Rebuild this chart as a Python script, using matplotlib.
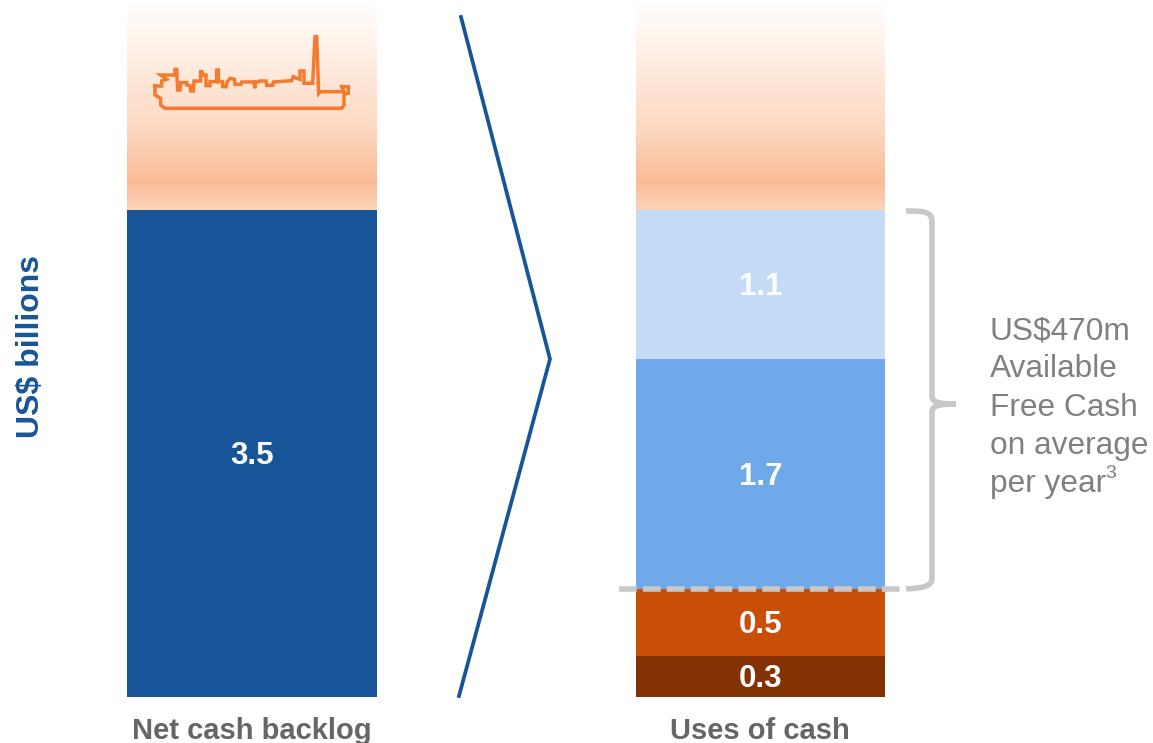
import numpy as np
import matplotlib
matplotlib.use("Agg")
import matplotlib.pyplot as plt
from matplotlib.colors import LinearSegmentedColormap
from matplotlib.patches import PathPatch
from matplotlib.path import Path

plt.rcParams['font.family'] = ['Liberation Sans', 'DejaVu Sans']

W, H = 1153, 743

backlog_label = "Net cash backlog"
backlog_value = 3.5
backlog_color = "#185598"

uses_label = "Uses of cash"
uses_values = [0.3, 0.5, 1.7, 1.1]
uses_colors = ["#843203", "#C94F08", "#6FA9E9", "#C5DBF5"]

note_lines = ["US$470m", "Available", "Free Cash", "on average", "per year"]

# ship icon outline, 3 units to a pixel
ship_x = [45, 45, 62, 62, 75, 605, 612, 612, 625, 625, 605, 612, 540, 536, 530, 525, 518, 492,
          492, 480, 480, 470, 460, 455, 440, 400, 398, 380, 378, 358, 355, 345, 345, 342, 305,
          303, 285, 283, 270, 262, 258, 248, 248, 235, 235, 230, 230, 210, 210, 198, 198, 190,
          186, 182, 182, 162, 160, 152, 150, 140, 140, 122, 120, 113, 110, 105, 105, 62, 80,
          65, 65, 45]
ship_y = [198, 225, 235, 255, 265, 265, 255, 222, 220, 200, 200, 215, 215, 220, 50, 50, 190, 190,
          153, 153, 178, 175, 170, 182, 183, 186, 196, 196, 183, 183, 186, 186, 205, 186, 186,
          193, 193, 178, 175, 185, 200, 200, 185, 185, 150, 150, 185, 185, 197, 197, 165, 165,
          155, 155, 183, 183, 213, 213, 197, 195, 188, 188, 210, 210, 148, 148, 165, 165, 178,
          183, 198, 198]

fade = LinearSegmentedColormap.from_list(
    "fade", [(0, "#FFFFFF"), (0.2, "#FFF3EB"), (0.6, "#FDD9C3"), (0.87, "#FABC97"), (1, "#FDD3BA")])

fig = plt.figure(figsize=(W / 100, H / 100), dpi=100)


def bar_axes(left, right, top_value):
    # the solid part of each column runs from y=697 up to y=210
    ax = fig.add_axes([left / W, (H - 697) / H, (right - left) / W, 487 / H])
    ax.set_xlim(0, 1)
    ax.set_ylim(0, top_value)
    ax.axis("off")
    return ax


def faded_top(left, right):
    ax = fig.add_axes([left / W, (H - 210) / H, (right - left) / W, 210 / H])
    ax.imshow(np.linspace(0, 1, 210).reshape(-1, 1), cmap=fade, aspect="auto", vmin=0, vmax=1)
    ax.axis("off")


def value_label(ax, y, val):
    ax.annotate(f"{val}", (0.5, y), xytext=(0, -2), textcoords="offset points", color="white",
                fontsize=22.5, fontweight="bold", ha="center", va="center")


faded_top(127, 377)
faded_top(636, 885)

ax1 = bar_axes(127, 377, backlog_value)
ax1.bar(0.5, backlog_value, width=1, color=backlog_color)
value_label(ax1, backlog_value / 2, backlog_value)

ax2 = bar_axes(636, 885, sum(uses_values))
bottom = 0
for val, col in zip(uses_values, uses_colors):
    ax2.bar(0.5, val, width=1, bottom=bottom, color=col)
    value_label(ax2, bottom + val / 2, val)
    bottom += val

# overlay in pixel coordinates for the annotations
ov = fig.add_axes([0, 0, 1, 1], zorder=5)
ov.set_xlim(0, W)
ov.set_ylim(H, 0)
ov.axis("off")
ov.patch.set_alpha(0)

ov.plot(140 + np.array(ship_x) / 3, 20 + np.array(ship_y) / 3, color="#F47A2E", lw=2.5,
        solid_joinstyle="miter")

# chevron between the columns
ov.plot([461, 550, 459], [17, 359, 696], color=backlog_color, lw=2.7, solid_joinstyle="miter")

# dashed line at the top of the two lower segments
dash_y = H - ax2.transData.transform((0, sum(uses_values[:2])))[1]
ov.plot([619, 904], [dash_y, dash_y], color="#C8C8C8", lw=4, dashes=(3.2, 1.1))

# curly bracket
verts = [(906, 211), (926, 211), (932, 212), (932, 222),
         (932, 396), (932, 402), (938, 404), (956, 404),
         (938, 404), (932, 406), (932, 412), (932, dash_y - 10),
         (932, dash_y), (906, dash_y)]
codes = [Path.MOVETO, Path.CURVE4, Path.CURVE4, Path.CURVE4,
         Path.LINETO, Path.CURVE4, Path.CURVE4, Path.CURVE4,
         Path.CURVE4, Path.CURVE4, Path.CURVE4, Path.LINETO,
         Path.CURVE3, Path.CURVE3]
ov.add_patch(PathPatch(Path(verts, codes), fc="none", ec="#C8C8C8", lw=4, capstyle="butt"))

for i, line in enumerate(note_lines):
    ov.text(990, 331 + i * 38.3, line, color="#808080", fontsize=22.8, ha="left", va="center")
ov.text(1105, 474, "3", color="#808080", fontsize=14, ha="left", va="center")

ov.text(252, 731, backlog_label, color="#666666", fontsize=21, fontweight="bold",
        ha="center", va="center")
ov.text(760, 731, uses_label, color="#666666", fontsize=21, fontweight="bold",
        ha="center", va="center")
ov.text(31, 346, "US$ billions", color=backlog_color, fontsize=23, fontweight="bold",
        rotation=90, ha="center", va="center")

fig.savefig("out.png", dpi=100)
